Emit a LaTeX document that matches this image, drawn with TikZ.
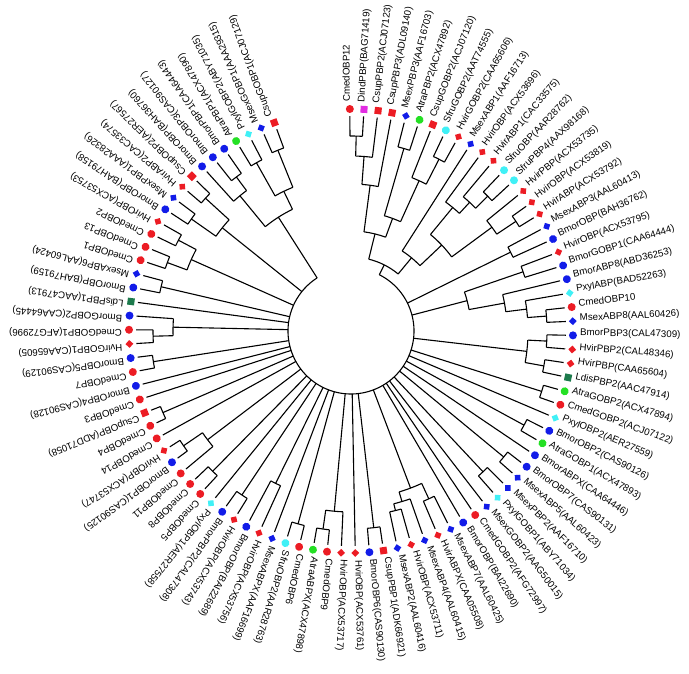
\documentclass[tikz,border=0pt]{standalone}
\usepackage{fontspec}
\setmainfont{Liberation Sans}
\usetikzlibrary{shapes.geometric}

\definecolor{mkred}{RGB}{236,28,36}
\definecolor{mkblue}{RGB}{18,28,232}
\definecolor{mkcyan}{RGB}{64,240,246}
\definecolor{mkgreen}{RGB}{36,224,36}
\definecolor{mkteal}{RGB}{28,122,76}
\definecolor{mkmagenta}{RGB}{226,44,226}

\tikzset{
  branch/.style={line width=1.1pt, black},
  leafmark/.style={draw=none, inner sep=0pt},
  Cmed/.style={circle, fill=mkred, minimum size=8pt},
  Csup/.style={rectangle, fill=mkred, minimum size=7pt},
  Hvir/.style={diamond, fill=mkred, minimum size=8pt},
  Bmor/.style={circle, fill=mkblue, minimum size=8pt},
  Msex/.style={diamond, fill=mkblue, minimum size=8pt},
  Atra/.style={circle, fill=mkgreen, minimum size=8pt},
  Sfru/.style={circle, fill=mkcyan, minimum size=8pt},
  Pxyl/.style={diamond, fill=mkcyan, minimum size=8pt},
  Ldis/.style={rectangle, fill=mkteal, minimum size=7pt},
  Dind/.style={rectangle, fill=mkmagenta, minimum size=7pt},
  usemk/.code={\edef\mkname{#1}\expandafter\pgfkeysalso\expandafter{\mkname}},
  leaflabel/.style={font=\fontsize{9.7}{10}\selectfont, inner sep=0pt, anchor=base west},
}

% clade: name, radius, children (first and last set the arc)
\newcommand\clade[3]{%
  \gdef\cfirst{}%
  \foreach \ch in {#3}{%
    \ifx\cfirst\empty\xdef\cfirst{\ch}\fi
    \xdef\clast{\ch}}%
  \pgfmathsetmacro\cang{(\csname ta\cfirst\endcsname+\csname ta\clast\endcsname)/2}%
  \expandafter\xdef\csname ta#1\endcsname{\cang}%
  \expandafter\xdef\csname tr#1\endcsname{#2}%
  \draw[branch] (\csname ta\cfirst\endcsname:#2)
    arc[start angle=\csname ta\cfirst\endcsname, end angle=\csname ta\clast\endcsname, radius=#2];
  \foreach \ch in {#3}{%
    \draw[branch] (\csname ta\ch\endcsname:#2) -- (\csname ta\ch\endcsname:\csname tr\ch\endcsname);}%
}

\begin{document}
\begin{tikzpicture}[x=1pt, y=1pt]
  \useasboundingbox (0,0) rectangle (689,673);
  \begin{scope}[shift={(351,342)}]
  % leaves, markers and labels
  \foreach \i/\sp/\txt in {
    1/Cmed/CmedOBP12, 2/Dind/DindPBP(BAG71419), 3/Csup/CsupPBP2(ACJ07123),
    4/Csup/CsupPBP3(ADL09140), 5/Msex/MsexPBP3(AAF16703), 6/Atra/AtraPBP2(ACX47892),
    7/Csup/CsupGOBP2(ACJ07120), 8/Sfru/SfruGOBP2(AAT74555), 9/Hvir/HvirGOBP2(CAA65606),
    10/Msex/MsexABP1(AAF16713), 11/Hvir/HvirOBP(ACX53696), 12/Hvir/HvirABP1(CAC33575),
    13/Sfru/SfruOBP(AAR28762), 14/Sfru/SfruPBP4(AAX98168), 15/Hvir/HvirPBP(ACX53735),
    16/Hvir/HvirOBP(ACX53819), 17/Hvir/HvirABP(ACX53792), 18/Msex/MsexABP3(AAL60413),
    19/Bmor/BmorOBP(BAH36762), 20/Hvir/HvirOBP(ACX53795), 21/Bmor/BmorGOBP1(CAA64444),
    22/Bmor/BmorABP8(ABD36253), 23/Pxyl/PxylABP(BAD52263), 24/Cmed/CmedOBP10,
    25/Msex/MsexABP8(AAL60426), 26/Bmor/BmorPBP3(CAL47309), 27/Hvir/HvirPBP2(CAL48346),
    28/Hvir/HvirPBP(CAA65604), 29/Ldis/LdisPBP2(AAC47914), 30/Atra/AtraGOBP2(ACX47894),
    31/Cmed/CmedGOBP2(ACJ07122), 32/Pxyl/PxylOBP2(AER27559), 33/Bmor/BmorOBP2(CAS90126),
    34/Atra/AtraGOBP1(ACX47893), 35/Bmor/BmorABPX(CAA64446), 36/Bmor/BmorOBP7(CAS90131),
    37/Msex/MsexABP5(AAL60423), 38/Msex/MsexPBP2(AAF16710), 39/Pxyl/PxylGOBP1(ABY71034),
    40/Msex/MsexGOBP2(AAG50015), 41/Cmed/CmedGOBP2(AFG72997), 42/Bmor/BmorOBP(BAI22690),
    43/Msex/MsexABP7(AAL60425), 44/Hvir/HvirABPX(CAA05508), 45/Msex/MsexABP4(AAL60415),
    46/Hvir/HvirOBP(ACX53711), 47/Msex/MsexABP2(AAL60416), 48/Csup/CsupPBP1(ADK66921),
    49/Bmor/BmorOBP6(CAS90130), 50/Hvir/HvirOBP(ACX53761), 51/Hvir/HvirOBP(ACX53717),
    52/Cmed/CmedOBP9, 53/Atra/AtraABPX(ACX47898), 54/Cmed/CmedOBP6,
    55/Sfru/SfruOBP2(AAR28763), 56/Msex/MsexABPX(AAF16699), 57/Hvir/HvirOBP(ACX53756),
    58/Bmor/BmorOBP(BAI22689), 59/Hvir/HvirOBP(ACX53743), 60/Bmor/BmorPBP2(CAL47308),
    61/Pxyl/PxylOBP1(AER27558), 62/Cmed/CmedOBP5, 63/Cmed/CmedOBP8,
    64/Cmed/CmedOBP11, 65/Bmor/BmorOBP1(CAS90125), 66/Hvir/HvirOBP(ACX53747),
    67/Cmed/CmedOBP14, 68/Cmed/CmedOBP4, 69/Csup/CsupOBP(ADD71058),
    70/Cmed/CmedOBP3, 71/Bmor/BmorOBP4(CAS90128), 72/Cmed/CmedOBP7,
    73/Bmor/BmorOBP5(CAS90129), 74/Hvir/HvirGOBP1(CAA65605), 75/Cmed/CmedGOBP1(AFG72996),
    76/Bmor/BmorGOBP2(CAA64445), 77/Ldis/LdisPBP1(AAC47913), 78/Bmor/BmorOBP(BAH79159),
    79/Msex/MsexABP6(AAL60424), 80/Cmed/CmedOBP1, 81/Cmed/CmedOBP13,
    82/Cmed/CmedOBP2, 83/Hvir/HvirOBP(ACX53753), 84/Bmor/BmorOBP(BAH79158),
    85/Msex/MsexPBP1(AAA28326), 86/Hvir/HvirABP2(CAC33574), 87/Csup/CsupOBP2(AER27567),
    88/Bmor/BmorOBP(BAH36760), 89/Bmor/BmorOBP3(CAS90127), 90/Bmor/BmorPBP1(CAA64443),
    91/Atra/AtraPBP1(ACX47890), 92/Pxyl/PxylGOBP2(ABY71035), 93/Msex/MsexGOBP1(AAA29315),
    94/Csup/CsupGOBP1(ACJ07129)}{
    \pgfmathsetmacro\a{90.3-(\i-1)*3.657}
    \expandafter\xdef\csname ta\i\endcsname{\a}
    \expandafter\xdef\csname tr\i\endcsname{215}
    \node[leafmark, usemk=\sp, rotate=\a] (m\i) at (\a:222) {};
    \node[leaflabel, rotate=\a] (l\i) at (\a:229) {\txt};
  }
  % clades, innermost first
  \clade{a}{195}{1,2}
  \clade{b}{175}{a,3}
  \clade{c}{147}{b,4}
  \clade{d}{190}{5,6}
  \clade{e}{193}{8,9}
  \clade{f}{165}{7,e}
  \clade{g}{120}{d,f}
  \clade{h}{100}{c,g}
  \clade{i}{192}{13,14}
  \clade{j}{175}{12,i}
  \clade{k}{160}{11,j}
  \clade{l}{198}{16,17}
  \clade{m}{175}{15,l}
  \clade{n}{125}{k,m}
  \clade{o}{95}{10,n}
  \clade{p}{74}{h,o}
  \clade{q}{178}{18,19}
  \clade{r}{182}{20,21}
  \clade{s}{196}{24,25}
  \clade{t}{177}{23,s}
  \clade{u}{156}{22,t}
  \clade{v}{120}{r,u}
  \clade{w}{196}{26,27}
  \clade{x}{196}{28,29}
  \clade{y}{177}{w,x}
  \clade{z}{200}{30,31}
  \clade{A}{197}{33,34}
  \clade{C}{198}{36,37}
  \clade{D}{193}{38,39}
  \clade{H}{185}{43,44}
  \clade{I}{185}{46,47}
  \clade{J}{178}{45,I}
  \clade{HJ}{168}{H,J}
  \clade{K}{198}{48,49}
  \clade{L}{200}{52,53}
  \clade{M}{181}{51,L}
  \clade{N}{200}{54,55}
  \clade{O}{170}{57,58}
  \clade{P}{197}{59,60}
  \clade{Q}{197}{62,63}
  \clade{S}{203}{65,66}
  \clade{T}{180}{64,S}
  \clade{U}{205}{68,69}
  \clade{V}{200}{72,73}
  \clade{W}{198}{74,75}
  \clade{X}{178}{76,W}
  \clade{Y}{195}{78,79}
  \clade{Za}{196}{80,81}
  \clade{Zb}{195}{82,83}
  \clade{Z}{175}{Za,Zb}
  \clade{ag}{195}{84,85}
  \clade{ah}{197}{86,87}
  \clade{ai}{165}{ag,ah}
  \clade{ad}{192}{89,90}
  \clade{ae}{175}{88,ad}
  \clade{aa}{195}{93,94}
  \clade{ab}{193}{91,92}
  \clade{ac}{155}{ab,aa}
  \clade{af}{135}{ae,ac}
  % root circle
  \clade{root}{63}{p,q,v,y,z,32,A,35,C,D,40,41,42,HJ,K,50,M,N,56,O,P,61,Q,T,67,U,70,71,V,X,77,Y,Z,ai,af}
  \end{scope}
\end{tikzpicture}
\end{document}
